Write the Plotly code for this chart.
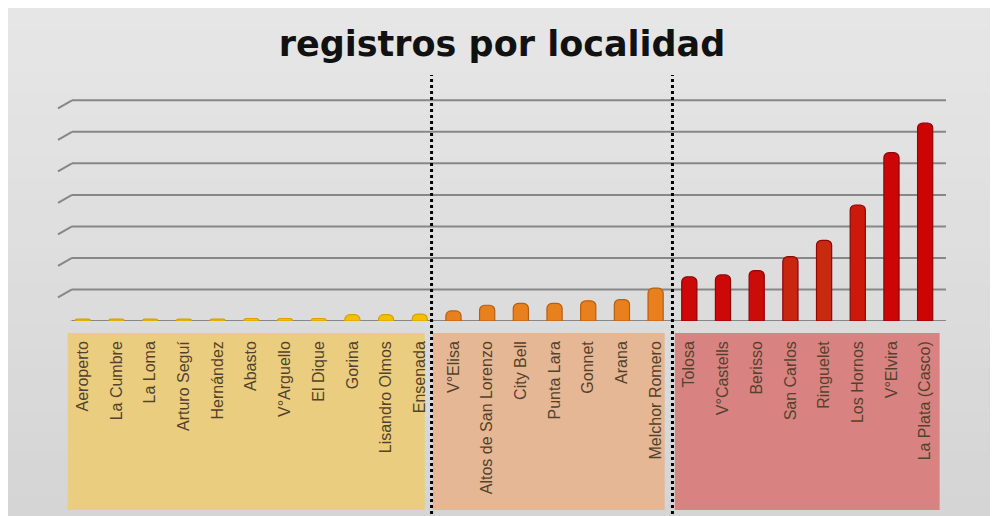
import plotly.graph_objects as go

localidades = ["Aeroperto", "La Cumbre", "La Loma", "Arturo Seguí", "Hernández", "Abasto",
               "V°Arguello", "El Dique", "Gorina", "Lisandro Olmos", "Ensenada",
               "V°Elisa", "Altos de San Lorenzo", "City Bell", "Punta Lara", "Gonnet", "Arana",
               "Melchor Romero",
               "Tolosa", "V°Castells", "Berisso", "San Carlos", "Ringuelet", "Los Hornos",
               "V°Elvira", "La Plata (Casco)"]
registros = [3, 3, 3, 3, 3, 4, 4, 4, 10, 10, 11,
             16, 25, 28, 28, 32, 34, 52,
             70, 73, 80, 102, 128, 184, 267, 314]
colores = (["#f2c000"] * 11 + ["#e8801e"] * 7 +
           ["#cc0808", "#cc0808", "#cc0c08", "#c8260e", "#c82a10", "#cc1a0a", "#cc0606", "#cc0404"])
bordes = (["#d8a000"] * 11 + ["#b85e10"] * 7 + ["#8e0606"] * 8)
ticks_y = [0, 50, 100, 150, 200, 250, 300, 350]
grupos = [(-0.45, 10.15, "#ebcd80"), (10.39, 17.27, "#e5b794"), (17.57, 25.43, "#d98282")]
separadores = [10.35, 17.5]

# page body has an 8px margin: figure pixel = screen pixel - 8
OFF = 8
W, H = 990, 508
ML, MR, MT, MB = 58, 56, 86, 195
PW = W - ML - MR
PH = H - MT - MB
YMAX = 360


def px_x(px):
    return (px - OFF - ML) / PW


def px_y(py):
    return (H - MB - (py - OFF)) / PH


fig = go.Figure()
fig.add_trace(go.Bar(
    x=localidades, y=registros,
    width=0.45,
    marker=dict(color=colores, line=dict(color=bordes, width=1.2), cornerradius=5),
    hoverinfo="x+y",
))

shapes = []
# background panel with soft vertical gradient
n_bands = 24
top, bot = 8, 516
c_top, c_bot = 0xe6, 0xd5
for i in range(n_bands):
    y0 = top + (bot - top) * i / n_bands
    y1 = top + (bot - top) * (i + 1) / n_bands + 1
    g = round(c_top + (c_bot - c_top) * i / (n_bands - 1))
    shapes.append(dict(type="rect", xref="paper", yref="paper",
                       x0=px_x(8), x1=px_x(993), y0=px_y(y1), y1=px_y(y0),
                       fillcolor=f"rgb({g},{g},{g})", line=dict(width=0), layer="below"))
# label panels
for x0, x1, c in grupos:
    shapes.append(dict(type="rect", xref="x", yref="paper",
                       x0=x0, x1=x1, y0=px_y(510), y1=px_y(333),
                       fillcolor=c, line=dict(width=0), layer="below"))
# gridlines with perspective stubs
k = PH / YMAX
for v in ticks_y:
    shapes.append(dict(type="line", xref="paper", yref="y",
                       x0=px_x(72), x1=px_x(946), y0=v, y1=v,
                       line=dict(color="#878787", width=2), layer="below"))
    shapes.append(dict(type="line", xref="paper", yref="y",
                       x0=px_x(58), x1=px_x(72), y0=v - 8 / k, y1=v,
                       line=dict(color="#878787", width=2), layer="below"))
# dotted separators
for s in separadores:
    shapes.append(dict(type="line", xref="x", yref="paper",
                       x0=s, x1=s, y0=px_y(520), y1=px_y(75),
                       line=dict(color="#000000", width=3, dash="dot"), layer="above"))

fig.update_layout(
    width=W, height=H,
    margin=dict(l=ML, r=MR, t=MT, b=MB, autoexpand=False),
    paper_bgcolor="#ffffff",
    plot_bgcolor="rgba(0,0,0,0)",
    showlegend=False,
    shapes=shapes,
    title=dict(text="<b>registros por localidad</b>", x=(502 - OFF) / W, xanchor="center",
               y=1 - (44 - OFF) / H, yanchor="middle",
               font=dict(family="DejaVu Sans", size=35, color="#111111")),
    xaxis=dict(range=[-0.5, 25.5], tickangle=-90, showgrid=False, zeroline=False,
               showline=False, ticks="", ticklabelstandoff=16,
               tickfont=dict(family="Liberation Sans", size=16, color="#54422c")),
    yaxis=dict(range=[0, YMAX], showgrid=False, zeroline=False, showticklabels=False,
               showline=False, ticks=""),
)

fig.write_html("out.html")
